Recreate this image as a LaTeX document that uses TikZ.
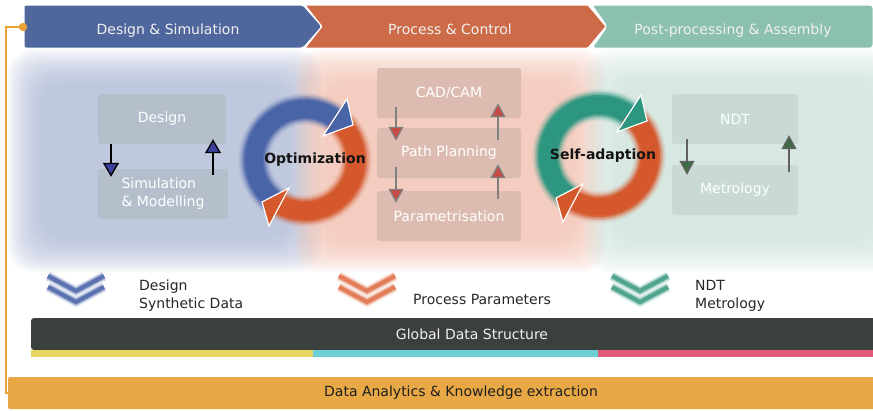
\documentclass[tikz,border=0pt]{standalone}
\usepackage{fontspec}
\setmainfont{DejaVu Sans}
\usepackage{xcolor}
\usetikzlibrary{arrows.meta,positioning}

\definecolor{hdrblue}{HTML}{4F679D}
\definecolor{hdrorange}{HTML}{CD6A48}
\definecolor{hdrteal}{HTML}{8CC0B1}
\definecolor{bgblue}{HTML}{ACB7D4}
\definecolor{bgorange}{HTML}{F0BDAC}
\definecolor{bgteal}{HTML}{CBE0D9}
\definecolor{boxblue}{HTML}{B5BFCC}
\definecolor{boxorange}{HTML}{DCBCB0}
\definecolor{boxteal}{HTML}{C8DAD3}
\definecolor{ringblue}{HTML}{4A64A8}
\definecolor{ringorange}{HTML}{D4582C}
\definecolor{ringteal}{HTML}{2C9680}
\definecolor{headblue}{HTML}{3B3F9E}
\definecolor{headred}{HTML}{C84A44}
\definecolor{headgreen}{HTML}{3F6B45}
\definecolor{chevblue}{HTML}{4A64A8}
\definecolor{chevorange}{HTML}{E07048}
\definecolor{chevteal}{HTML}{3F9A85}
\definecolor{gdsdark}{HTML}{3C403C}
\definecolor{stripyellow}{HTML}{E6D463}
\definecolor{stripcyan}{HTML}{6DCFD6}
\definecolor{strippink}{HTML}{E05A78}
\definecolor{analytics}{HTML}{E8A845}
\definecolor{linkorange}{HTML}{E8A235}

\newcommand{\cyclering}[3]{%
  \foreach \w/\o in {32/0.08,29/0.15,26/0.25,23/0.4,20/0.7,17/1} {
    \draw[#2, line width=\w pt, opacity=\o] ([shift={(-235:51)}]#1) arc[start angle=-235, end angle=-55, radius=51];
    \draw[#3, line width=\w pt, opacity=\o] ([shift={(-55:51)}]#1) arc[start angle=-55, end angle=125, radius=51];
  }
  \filldraw[fill=#2, draw=white, line width=1.2pt] ([shift={(42,-61)}]#1) -- ([shift={(48,-35)}]#1) -- ([shift={(18,-24)}]#1) -- cycle;
  \filldraw[fill=#3, draw=white, line width=1.2pt] ([shift={(-16,28)}]#1) -- ([shift={(-43,42)}]#1) -- ([shift={(-36,66)}]#1) -- cycle;
}

\begin{document}
\begin{tikzpicture}[x=1pt, y=-1pt, font=\fontsize{14}{18}\selectfont, >=Stealth,
    hdrtext/.style={text=white!94!black, anchor=base},
    box/.style={rounded corners=3pt, minimum width=128pt, minimum height=50pt, text=white, inner sep=2pt},
    lbl/.style={text=black!85, inner sep=0pt, align=left},
    bluearr/.style={line width=1.3pt, black, -{Triangle[length=14pt,width=16pt,fill=headblue]}},
    redarr/.style={line width=1.3pt, black!50, -{Triangle[length=14pt,width=15pt,fill=headred]}},
    greenarr/.style={line width=1.3pt, black!62, -{Triangle[length=14pt,width=15pt,fill=headgreen]}}]
    \useasboundingbox (0,0) rectangle (873,410);

    \foreach \xa/\xb/\col in {8/322/bgblue, 294/606/bgorange, 584/904/bgteal}
        \foreach \i in {0,...,15}
            \fill[\col, fill opacity=0.085, rounded corners=24pt] (\xa+2.2*\i,50+2.2*\i) rectangle (\xb-2.2*\i,272-2.2*\i);

    \filldraw[hdrblue, draw=white, line width=1pt, rounded corners=2pt] (24,5) -- (303,5) -- (322,26.5) -- (303,48) -- (24,48) -- cycle;
    \filldraw[hdrorange, draw=white, line width=1pt, rounded corners=1pt] (305,5) -- (588,5) -- (606,26.5) -- (588,48) -- (305,48) -- (322,26.5) -- cycle;
    \filldraw[hdrteal, draw=white, line width=1pt, rounded corners=3pt] (592,5) -- (873,5) -- (873,48) -- (592,48) -- (607,26.5) -- cycle;
    \node[hdrtext] (hdes) at (168,34) {Design \& Simulation};
    \node[hdrtext] (hproc) at (450,34) {Process \& Control};
    \node[hdrtext] (hpost) at (733,34) {Post-processing \& Assembly};

    \coordinate (optc) at (305,160);
    \coordinate (selfc) at (599,156);
    \cyclering{optc}{ringblue}{ringorange}
    \cyclering{selfc}{ringteal}{ringorange}
    \node[font=\fontsize{14}{18}\selectfont\bfseries, text=black!92] (opt) at (315,160) {Optimization};
    \node[font=\fontsize{14}{18}\selectfont\bfseries, text=black!92] (selfad) at (603,156) {Self-adaption};

    \node[box, fill=boxblue] (design) at (162,119) {Design};
    \node[box, fill=boxblue, minimum width=130pt, align=left] (simmod) at (163,194) {Simulation\\\& Modelling};
    \draw[bluearr] ([xshift=-51pt]design.south) -- ([xshift=-52pt,yshift=-8pt]simmod.north);
    \draw[bluearr] ([xshift=50pt,yshift=-6pt]simmod.north) -- ([xshift=51pt,yshift=5pt]design.south);

    \node[box, fill=boxorange, minimum width=144pt] (cadcam) at (449,93) {CAD/CAM};
    \node[box, fill=boxorange, minimum width=144pt] (path) at (449,153) {Path Planning};
    \node[box, fill=boxorange, minimum width=144pt] (param) at (449,216) {Parametrisation};
    \draw[redarr] ([xshift=-53pt,yshift=11pt]cadcam.south) -- ([xshift=-53pt,yshift=-13pt]path.north);
    \draw[redarr] ([xshift=-53pt,yshift=11pt]path.south) -- ([xshift=-53pt,yshift=-12pt]param.north);
    \draw[redarr] ([xshift=49pt,yshift=-12pt]path.north) -- ([xshift=49pt,yshift=15pt]cadcam.south);
    \draw[redarr] ([xshift=49pt,yshift=-8pt]param.north) -- ([xshift=49pt,yshift=14pt]path.south);

    \node[box, fill=boxteal, minimum width=126pt] (ndt) at (735,119) {NDT};
    \node[box, fill=boxteal, minimum width=126pt] (metro) at (735,190) {Metrology};
    \draw[greenarr] ([xshift=-48pt,yshift=5pt]ndt.south) -- ([xshift=-48pt,yshift=-10pt]metro.north);
    \draw[greenarr] ([xshift=54pt,yshift=-7pt]metro.north) -- ([xshift=54pt,yshift=9pt]ndt.south);

    \foreach \cx/\col in {76/chevblue, 367/chevorange, 640/chevteal}
        \foreach \w/\o in {10/0.1,8/0.2,6/0.35,4/0.8} {
            \draw[\col, line width=\w pt, opacity=\o] (\cx-28,276) -- (\cx,291) -- (\cx+28,276);
            \draw[\col, line width=\w pt, opacity=\o] (\cx-28,287) -- (\cx,302) -- (\cx+28,287);
        }
    \node[lbl, anchor=west] (dsd) at (139,296) {Design\\Synthetic Data};
    \node[lbl, anchor=west] (pparam) at (413,299) {Process Parameters};
    \node[lbl, anchor=west] (ndtm) at (695,296) {NDT\\Metrology};

    \node[fill=gdsdark, text=white!94!black, minimum width=882pt, minimum height=32pt, rounded corners=3pt] (gds) at (472,334) {Global Data Structure};
    \fill[stripyellow] (31,350) rectangle (313,357);
    \fill[stripcyan] (313,350) rectangle (598,357);
    \fill[strippink] (598,350) rectangle (913,357);

    \node[fill=analytics, text=black!88, minimum width=906pt, minimum height=32pt, rounded corners=2pt] (analyt) at (461,393) {Data Analytics \& Knowledge extraction};
    \node[circle, fill=linkorange, inner sep=3pt] (hdot) at (23,27) {};
    \coordinate (lbend) at (6,393);
    \draw[linkorange, line width=2.5pt] (hdot) -| (lbend) -- (analyt.west);
\end{tikzpicture}
\end{document}
